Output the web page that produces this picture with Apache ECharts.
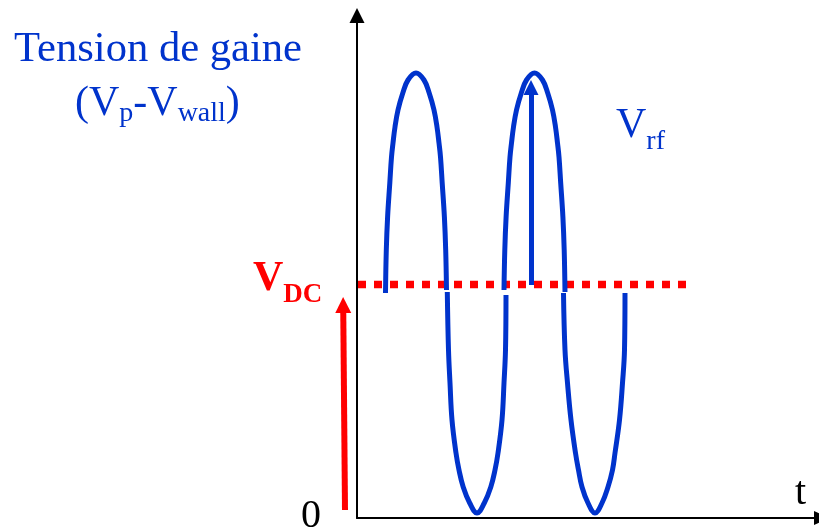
<!DOCTYPE html>
<html><head><meta charset="utf-8">
<script src="https://cdn.jsdelivr.net/npm/echarts@6/dist/echarts.min.js"></script>
<style>html,body{margin:0;padding:0;background:#fff}#c{width:819px;height:528px}</style>
</head><body><div id="c"></div>
<script>
// ---- data (t, voltage) ----
const arcUp1 = [[5.70,45.0],[5.86,53.6],[6.12,60.2],[6.56,67.0],[6.90,72.2],[7.20,75.0],[7.60,78.2],[8.20,81.6],[9.16,85.0],[10.20,87.6],[11.80,89.0],[13.40,87.6],[14.44,85.0],[15.40,81.6],[16.00,78.2],[16.40,75.0],[16.70,72.2],[17.04,67.0],[17.48,60.2],[17.74,53.6],[17.90,45.6]];
const arcDown1 = [[18.06,45.2],[18.30,33.6],[18.60,27.0],[19.00,19.6],[19.80,13.0],[20.40,9.6],[21.24,6.2],[22.54,3.0],[24.00,1.0],[25.46,3.0],[26.76,6.2],[27.60,9.6],[28.20,13.0],[29.00,19.6],[29.40,27.0],[29.70,33.6],[29.80,44.6]];
const arcUp2 = [[29.40,45.6],[29.56,53.6],[29.82,60.2],[30.26,67.0],[30.60,72.2],[30.90,75.0],[31.30,78.2],[31.90,81.6],[32.86,85.0],[33.90,87.6],[35.50,89.0],[37.10,87.6],[38.14,85.0],[39.10,81.6],[39.70,78.2],[40.10,75.0],[40.40,72.2],[40.74,67.0],[41.18,60.2],[41.44,53.6],[41.60,45.2]];
const arcDown2 = [[41.30,45.0],[41.60,33.6],[42.10,27.0],[42.80,19.6],[43.70,13.0],[44.30,9.6],[45.00,6.2],[46.20,3.0],[47.60,1.0],[49.00,3.0],[50.20,6.2],[51.10,9.6],[51.60,13.0],[52.50,19.6],[53.10,27.0],[53.50,33.6],[53.60,45.0]];
const vdcLine = [[0.2,46.7],[65.8,46.7]];
const vdcArrow = [[-2.4,1.6],[-2.76,42.6]];
const vrfArrow = [[34.8,46.6],[34.8,86.1]];
const axisRangeT = [0, 92];
const axisRangeV = [0, 100];

const BLUE = '#0033cc', RED = '#ff0000', SERIF = 'Liberation Serif';
const chart = echarts.init(document.getElementById('c'), null, {renderer:'canvas'});

function arcSeries(d){
  return {type:'line', data:d, smooth:0.4, symbol:'none', silent:true, z:5,
    lineStyle:{color:BLUE, width:5}};
}
// subscript style: vertical offset of glyph centre from line top = height/2
function sub(fs, centre, color, weight){
  return {fontFamily:SERIF, fontSize:fs, fontWeight:weight||'normal', color:color,
    lineHeight:10, height:centre*2, verticalAlign:'top'};
}

chart.setOption({
  animation:false,
  backgroundColor:'#fff',
  grid:{left:357, right:2, top:18, bottom:10, outerBoundsMode:'none', containLabel:false},
  xAxis:{type:'value', min:axisRangeT[0], max:axisRangeT[1],
    axisLine:{show:true, onZero:false, lineStyle:{color:'#000', width:2}, symbol:['none','triangle'], symbolSize:[14,15], symbolOffset:[0,4.5]},
    axisTick:{show:false}, axisLabel:{show:false}, splitLine:{show:false}},
  yAxis:{type:'value', min:axisRangeV[0], max:axisRangeV[1],
    axisLine:{show:true, onZero:false, lineStyle:{color:'#000', width:2}, symbol:['none','triangle'], symbolSize:[15,15], symbolOffset:[0,2.5]},
    axisTick:{show:false}, axisLabel:{show:false}, splitLine:{show:false}},
  title:[
    {text:'Tension de gaine', left:14, top:28.5, padding:0,
     textStyle:{fontFamily:SERIF, fontSize:42.6, fontWeight:'normal', color:BLUE, lineHeight:42}},
    {text:'(V{s|p}-V{s|wall})', left:75, top:82.5, padding:0,
     textStyle:{fontFamily:SERIF, fontSize:42, fontWeight:'normal', color:BLUE, lineHeight:42,
       rich:{s:sub(28, 31, BLUE)}}},
    {text:'V{s|rf}', left:616, top:104.8, padding:0,
     textStyle:{fontFamily:SERIF, fontSize:42, fontWeight:'normal', color:BLUE, lineHeight:42,
       rich:{s:sub(28, 36.5, BLUE)}}},
    {text:'V{s|DC}', left:253, top:257.8, padding:0,
     textStyle:{fontFamily:SERIF, fontSize:42, fontWeight:'bold', color:RED, lineHeight:42,
       rich:{s:sub(27, 37, RED, 'bold')}}},
    {text:'0', left:301, top:496.5, padding:0,
     textStyle:{fontFamily:SERIF, fontSize:40, fontWeight:'normal', color:'#000', lineHeight:40}},
    {text:'t', left:795, top:473.5, padding:0,
     textStyle:{fontFamily:SERIF, fontSize:40, fontWeight:'normal', color:'#000', lineHeight:40}}
  ],
  series:[
    {type:'line', data:vdcLine, symbol:'none', silent:true, z:3,
     lineStyle:{color:RED, width:7.5, type:[8,8], cap:'butt'}},
    arcSeries(arcUp1), arcSeries(arcDown1), arcSeries(arcUp2), arcSeries(arcDown2),
    {type:'lines', coordinateSystem:'cartesian2d', clip:false, silent:true, z:6,
     symbol:['none','triangle'], symbolSize:[16,16],
     lineStyle:{color:RED, width:6, opacity:1, curveness:0},
     data:[{coords:vdcArrow}]},
    {type:'lines', coordinateSystem:'cartesian2d', clip:false, silent:true, z:6,
     symbol:['none','triangle'], symbolSize:[14,15],
     lineStyle:{color:BLUE, width:5, opacity:1, curveness:0},
     data:[{coords:vrfArrow}]}
  ]
});
</script></body></html>
